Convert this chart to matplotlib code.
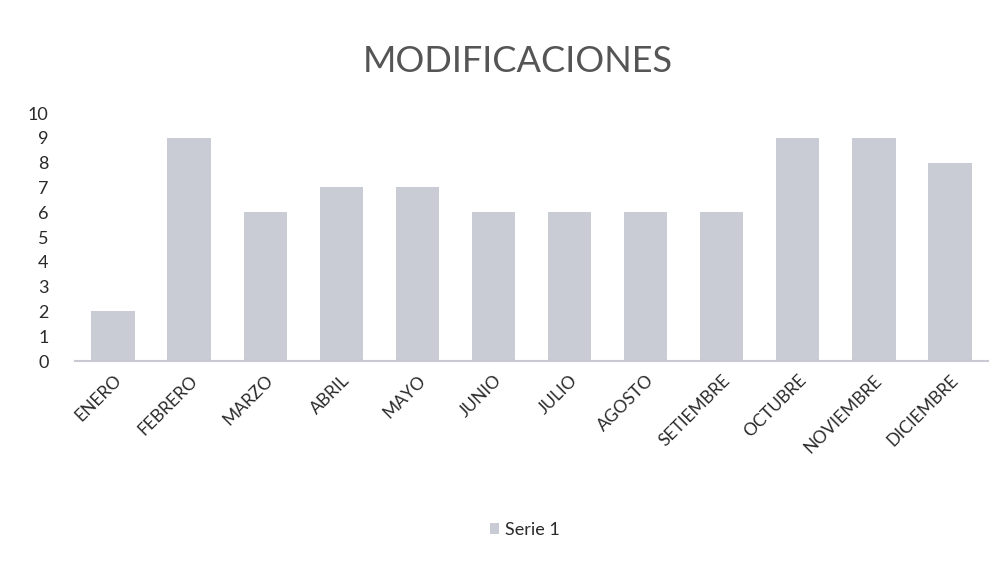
import matplotlib
matplotlib.use("Agg")
import matplotlib.pyplot as plt

months = ["ENERO", "FEBRERO", "MARZO", "ABRIL", "MAYO", "JUNIO", "JULIO",
          "AGOSTO", "SETIEMBRE", "OCTUBRE", "NOVIEMBRE", "DICIEMBRE"]
serie1 = [2, 9, 6, 7, 7, 6, 6, 6, 6, 9, 9, 8]
yticks = list(range(0, 11))

plt.rcParams['font.family'] = ['Lato', 'DejaVu Sans']

fig = plt.figure(figsize=(10.06, 5.65), dpi=100)
ax = fig.add_axes([75/1006, 1 - 361/565, (988 - 75)/1006, (361 - 113)/565])

x = range(len(months))
ax.bar(x, serie1, width=0.57, color="#c9cbd5", label="Serie 1", zorder=2)

ax.set_ylim(0, 10)
ax.set_xlim(-0.5, len(months) - 0.5)
ax.set_yticks(yticks)
ax.set_yticklabels([str(t) for t in yticks], fontsize=13, color="#2a2a2a")
ax.set_xticks(list(x))
ax.set_xticklabels(months, rotation=45, ha="right", rotation_mode="anchor",
                   fontsize=12.5, color="#2a2a2a")
ax.tick_params(axis="both", length=0)
ax.tick_params(axis="y", pad=19)
ax.tick_params(axis="x", pad=8)

for s in ["top", "right", "left"]:
    ax.spines[s].set_visible(False)
ax.spines["bottom"].set_color("#c8c9d2")
ax.spines["bottom"].set_linewidth(1.5)

fig.text(518/1006, 1 - 62/565, "MODIFICACIONES", ha="center", va="center",
         fontsize=26, fontweight="normal", color="#555555")

leg = fig.legend(loc="center", bbox_to_anchor=(525/1006, 1 - 530/565), frameon=False,
                 fontsize=13, handlelength=0.5, handleheight=0.5, handletextpad=0.3)
for t in leg.get_texts():
    t.set_color("#2a2a2a")

fig.savefig("out.png", dpi=100, facecolor="white")
